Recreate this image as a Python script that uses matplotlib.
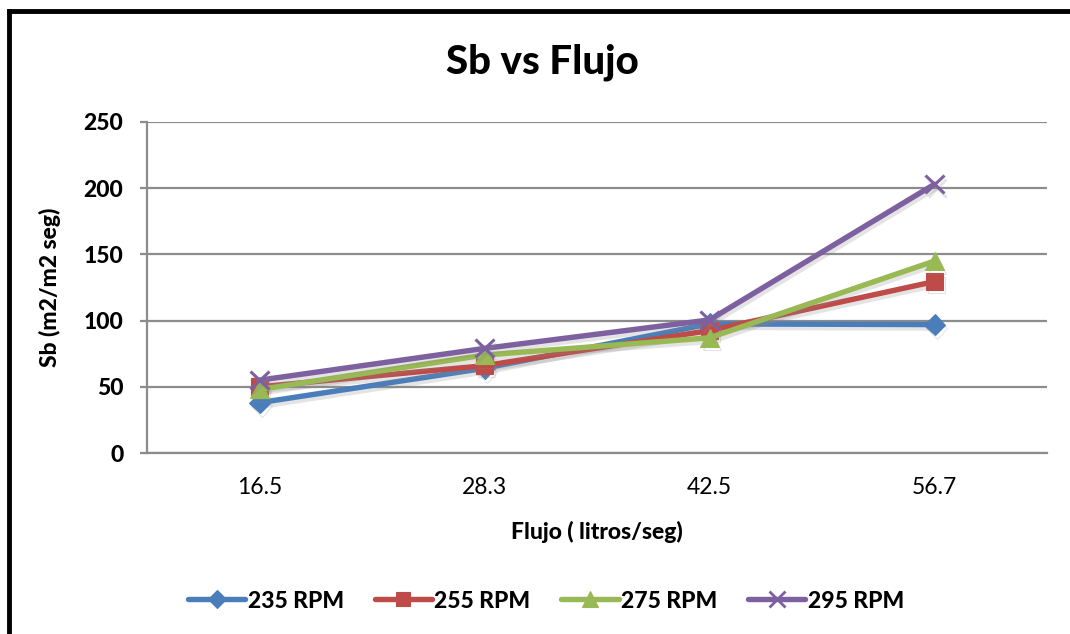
import matplotlib
matplotlib.use("Agg")
import matplotlib.pyplot as plt
import matplotlib.patheffects as pe
from matplotlib.lines import Line2D

# Data
flujo = ["16.5", "28.3", "42.5", "56.7"]
rpm_235 = [38, 64, 97.5, 97]
rpm_255 = [50, 66, 92.5, 129.5]
rpm_275 = [48, 74, 87, 145]
rpm_295 = [55, 79, 100.5, 203]
series_labels = ["235 RPM", "255 RPM", "275 RPM", "295 RPM"]

colors = ["#4A7EBB", "#BE4B48", "#98B954", "#7D60A0"]
markers = ["D", "s", "^", "x"]
msizes = [11, 12, 13, 13]

plt.rcParams["font.family"] = ["Lato", "DejaVu Sans"]
W = "black"

fig = plt.figure(figsize=(10.70, 6.34), dpi=100)
ax = fig.add_axes([147 / 1070, 1 - 453 / 634, 900 / 1070, 331 / 634])

x = list(range(len(flujo)))
shadow = [pe.SimpleLineShadow(offset=(1.5, -2.5), shadow_color="#888888", alpha=0.22),
          pe.Normal()]
for vals, c, m, ms in zip([rpm_235, rpm_255, rpm_275, rpm_295], colors, markers, msizes):
    ax.plot(x, vals, color=c, lw=3.9, marker=m, markersize=ms,
            markeredgewidth=2.2 if m == "x" else 0.8,
            markeredgecolor=c, markerfacecolor=c,
            solid_capstyle="round", path_effects=shadow, zorder=3)

ax.set_xlim(-0.5, 3.5)
ax.set_ylim(0, 250)
ax.set_yticks([0, 50, 100, 150, 200, 250])
ax.set_xticks(x)
ax.set_xticklabels(flujo)
ax.yaxis.grid(True, color="#8C8C8C", lw=1.6)
ax.set_axisbelow(True)
for s in ["top", "right"]:
    ax.spines[s].set_visible(False)
for s in ["left", "bottom"]:
    ax.spines[s].set_color("#8C8C8C")
    ax.spines[s].set_linewidth(1.6)
ax.tick_params(axis="y", length=5, width=1.6, color="#8C8C8C", labelsize=16.5, pad=12)
ax.tick_params(axis="x", length=0, labelsize=16.5, pad=17)
for lab in ax.get_yticklabels():
    lab.set_fontweight(W)

ax.set_xlabel("Flujo ( litros/seg)", fontsize=16.5, fontweight=W, labelpad=17)
ax.set_ylabel("Sb (m2/m2 seg)", fontsize=16.5, fontweight=W, labelpad=16)
fig.text(542 / 1070, 1 - 62 / 634, "Sb vs Flujo", fontsize=29, fontweight=W,
         ha="center", va="center")

handles = [Line2D([], [], color=c, lw=3.9, marker=m, markersize=ms * 0.85,
                  markeredgewidth=2 if m == "x" else 0.8,
                  markeredgecolor=c, markerfacecolor=c, solid_capstyle="round")
           for c, m, ms in zip(colors, markers, msizes)]
fig.legend(handles, series_labels, loc="center", bbox_to_anchor=(546 / 1070, 1 - 601 / 634),
           ncol=4, frameon=False, handlelength=2.5, handletextpad=0.1,
           columnspacing=1.35, prop={"family": ["Lato", "DejaVu Sans"], "weight": W, "size": 16.5})

# Outer frame (top and left edges)
fig.add_artist(Line2D([9 / 1070, 9 / 1070], [0, 1 - 11 / 634], color="black", lw=3.5,
                      transform=fig.transFigure))
fig.add_artist(Line2D([9 / 1070, 1], [1 - 11 / 634, 1 - 11 / 634], color="black", lw=3.5,
                      transform=fig.transFigure))

fig.savefig("out.png", dpi=100)
